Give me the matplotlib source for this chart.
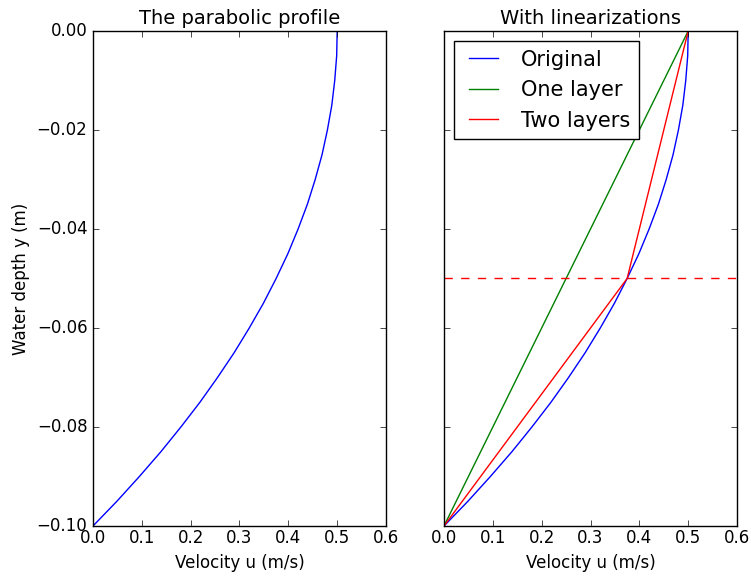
import matplotlib
matplotlib.use("Agg")
import matplotlib.pyplot as plt

# velocity profile
depth = [0.0, -0.005, -0.01, -0.015, -0.02, -0.025, -0.03, -0.035, -0.04, -0.045, -0.05,
         -0.055, -0.06, -0.065, -0.07, -0.075, -0.08, -0.085, -0.09, -0.095, -0.1]
velocity = [0.5, 0.499, 0.495, 0.489, 0.48, 0.469, 0.455, 0.439, 0.42, 0.399, 0.375,
            0.349, 0.32, 0.289, 0.255, 0.219, 0.18, 0.139, 0.095, 0.049, 0.0]

# linearizations
one_layer_u = [0.5, 0.0]
one_layer_y = [0.0, -0.1]
two_layer_u = [0.5, 0.375, 0.0]
two_layer_y = [0.0, -0.05, -0.1]
split_depth = -0.05

plt.style.use('classic')
fig = plt.figure(figsize=(7.51, 5.80), dpi=100, facecolor='white')

ax1 = fig.add_axes([0.1238, 0.0931, 0.3902, 0.8535])
ax1.plot(velocity, depth, color='b')
ax1.set_xlim(0, 0.6)
ax1.set_ylim(-0.1, 0.0)
ax1.set_title('The parabolic profile', fontsize=14)
ax1.set_xlabel('Velocity u (m/s)', fontsize=12)
ax1.set_ylabel('Water depth y (m)', fontsize=12)
ax1.tick_params(labelsize=12)
ax1.tick_params(axis='x', pad=2)

ax2 = fig.add_axes([0.5912, 0.0931, 0.3902, 0.8535])
ax2.plot(velocity, depth, color='b', label='Original')
ax2.plot(one_layer_u, one_layer_y, color='g', label='One layer')
ax2.plot(two_layer_u, two_layer_y, color='r', label='Two layers')
ax2.axhline(split_depth, color='r', ls='--')
ax2.set_xlim(0, 0.6)
ax2.set_ylim(-0.1, 0.0)
ax2.set_yticklabels([])
ax2.set_title('With linearizations', fontsize=14)
ax2.set_xlabel('Velocity u (m/s)', fontsize=12)
ax2.tick_params(labelsize=12)
ax2.tick_params(axis='x', pad=2)
ax2.legend(loc='upper left', fontsize=15)

fig.savefig('out.png', dpi=100, facecolor='white')
